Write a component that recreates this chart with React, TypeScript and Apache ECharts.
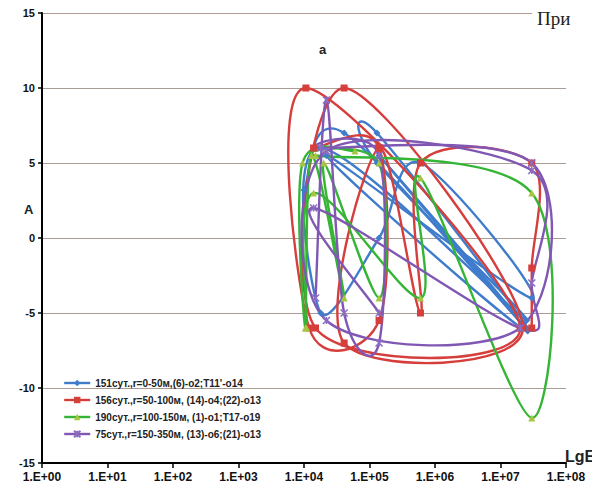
import React, { useEffect, useRef } from "react";
import * as echarts from "echarts";

const seriesNames = [
  "151сут.,r=0-50м,(6)-о2;T11'-о14",
  "156сут.,r=50-100м, (14)-о4;(22)-о13",
  "190сут.,r=100-150м, (1)-о1;T17-о19",
  "75сут.,r=150-350м, (13)-о6;(21)-о13",
];

const blueData: number[][] = [
  [1.0e4, 3.2], [4.1e4, 7], [2.5e7, -6], [1.3e5, 7], [1.3e5, 5], [2.5e7, -5.5],
  [1.8e4, 6], [1.8e4, -5], [1.4e5, 0], [6e5, 5], [3e7, -4], [2.2e4, 5.5],
  [2.2e7, -6], [1.4e5, 5.5], [2.6e7, -6.2],
];
const redData: number[][] = [
  [1.4e4, 6], [1.4e5, 6], [1.4e5, -5.5], [1.2e4, -6], [1.07e4, 10], [2e7, -6],
  [1.5e4, -6], [4.1e4, 10], [2.2e7, -6], [4.1e4, -7], [1.4e5, 6], [6e5, -5],
  [6e5, 5], [3e7, 5], [3e7, -2], [3e7, -6],
];
const greenData: number[][] = [
  [6e4, 5.8], [9.5e3, 5], [1.05e4, -6], [1.3e4, 5.5], [4.1e4, -4], [2e4, 5], [1.4e5, -4],
  [1.4e5, 5], [1.5e4, 5.5], [3e7, 3], [3e7, -12], [6e5, 4], [6e5, -4], [1.4e4, 3], [1.1e4, -6],
];
const purpleData: number[][] = [
  [1.5e4, -4], [2.2e4, 9.2], [4.1e4, -5], [1.4e5, -7], [1.4e5, 5.5], [1.8e4, 6],
  [3e7, 5], [2e7, -6], [2.2e4, -5.5], [2.2e4, 5.8], [3e7, 4.5], [3e7, -3],
  [2e7, -6], [1.4e4, 2], [1.4e5, -5],
];

const yTicks = [-15, -10, -5, 0, 5, 10, 15];

const colors = ["#3f7ccc", "#d63e3c", "#35b535", "#8058b3"];
const markerColors = ["#3f7ccc", "#d63e3c", "#a6c640", "#8a6cc0"];
const symbols = [
  "diamond",
  "rect",
  "triangle",
  "path://M0 0L10 10M10 0L0 10M5 0L5 10",
];

function curveSeries(data: number[][], color: string, idx: number) {
  return {
    name: "curve" + idx,
    type: "custom",
    data: data,
    z: 2 + idx,
    silent: true,
    renderItem: (params: any, api: any) => {
      const i = params.dataIndex;
      if (i >= data.length - 1) return null;
      const p0 = api.coord(data[Math.max(i - 1, 0)]);
      const p1 = api.coord(data[i]);
      const p2 = api.coord(data[i + 1]);
      const p3 = api.coord(data[Math.min(i + 2, data.length - 1)]);
      const k = 1 / 6;
      return {
        type: "bezierCurve",
        shape: {
          x1: p1[0],
          y1: p1[1],
          x2: p2[0],
          y2: p2[1],
          cpx1: p1[0] + (p2[0] - p0[0]) * k,
          cpy1: p1[1] + (p2[1] - p0[1]) * k,
          cpx2: p2[0] - (p3[0] - p1[0]) * k,
          cpy2: p2[1] - (p3[1] - p1[1]) * k,
        },
        style: { stroke: color, lineWidth: 2.4, fill: null },
      };
    },
  };
}

export default function App() {
  const ref = useRef<HTMLDivElement>(null);
  useEffect(() => {
    if (!ref.current) return;
    const chart = echarts.init(ref.current, undefined, { renderer: "svg" });
    const datasets = [blueData, redData, greenData, purpleData];
    const option: any = {
      animation: false,
      backgroundColor: "#ffffff",
      grid: { left: 42, right: 34, top: 13, bottom: 32 },
      legend: {
        orient: "vertical",
        left: 58,
        top: 373,
        itemGap: 7,
        itemWidth: 26,
        itemHeight: 8,
        lineStyle: { width: 2.4, opacity: 1 },
        textStyle: {
          fontSize: 10,
          fontWeight: "bold",
          color: "#222",
          fontFamily: "Liberation Sans",
        },
        data: seriesNames,
      },
      xAxis: {
        type: "log",
        logBase: 10,
        min: 1,
        max: 1e8,
        splitNumber: 8,
        axisLine: { show: true, onZero: false, lineStyle: { color: "#000", width: 2 } },
        axisTick: { show: true, length: 5, lineStyle: { color: "#000", width: 1.5 } },
        minorTick: { show: false },
        splitLine: { show: false },
        axisLabel: {
          color: "#111",
          fontSize: 12,
          fontWeight: "bold",
          fontFamily: "Liberation Sans",
          margin: 8,
          formatter: (v: number) =>
            "1.E+" + String(Math.round(Math.log10(v))).padStart(2, "0"),
        },
      },
      yAxis: {
        type: "value",
        min: yTicks[0],
        max: yTicks[yTicks.length - 1],
        interval: 5,
        axisLine: { show: true, onZero: false, lineStyle: { color: "#000", width: 2 } },
        axisTick: { show: true, length: 4, lineStyle: { color: "#000", width: 1.5 } },
        splitLine: { show: true, lineStyle: { color: "#ab9d95", width: 1 } },
        axisLabel: {
          color: "#111",
          fontSize: 11,
          fontWeight: "bold",
          fontFamily: "Liberation Sans",
          margin: 7,
        },
      },
      series: [
        ...datasets.map((d, i) => curveSeries(d, colors[i], i)),
        ...datasets.map((d, i) => ({
          name: seriesNames[i],
          type: "line",
          data: d,
          symbol: symbols[i],
          symbolSize: 7,
          showSymbol: true,
          color: colors[i],
          lineStyle: { color: colors[i], width: 2.4, opacity: 0 },
          itemStyle: {
            color: markerColors[i],
            borderColor: markerColors[i],
            borderWidth: i === 3 ? 1.5 : 0,
          },
          z: 10 + i,
        })),
      ],
      graphic: [
        {
          type: "text",
          left: 319,
          top: 43,
          style: { text: "a", fontSize: 13, fontWeight: "bold", fill: "#222", fontFamily: "Liberation Sans" },
        },
        {
          type: "text",
          left: 24,
          top: 203,
          style: { text: "A", fontSize: 13, fontWeight: "bold", fill: "#222", fontFamily: "Liberation Sans" },
        },
        {
          type: "text",
          left: 565,
          top: 448,
          style: { text: "LgE", fontSize: 16, fontWeight: "bold", fill: "#222", fontFamily: "Liberation Sans" },
        },
        {
          type: "rect",
          shape: { x: 532, y: 0, width: 68, height: 30 },
          style: { fill: "#ffffff" },
          z: 100,
        },
        {
          type: "text",
          left: 537,
          top: 9,
          z: 101,
          style: { text: "При", fontSize: 19, fill: "#222", fontFamily: "Liberation Serif" },
        },
      ],
    };
    chart.setOption(option);
    return () => chart.dispose();
  }, []);
  return <div ref={ref} style={{ width: 600, height: 495, margin: -8 }} />;
}
